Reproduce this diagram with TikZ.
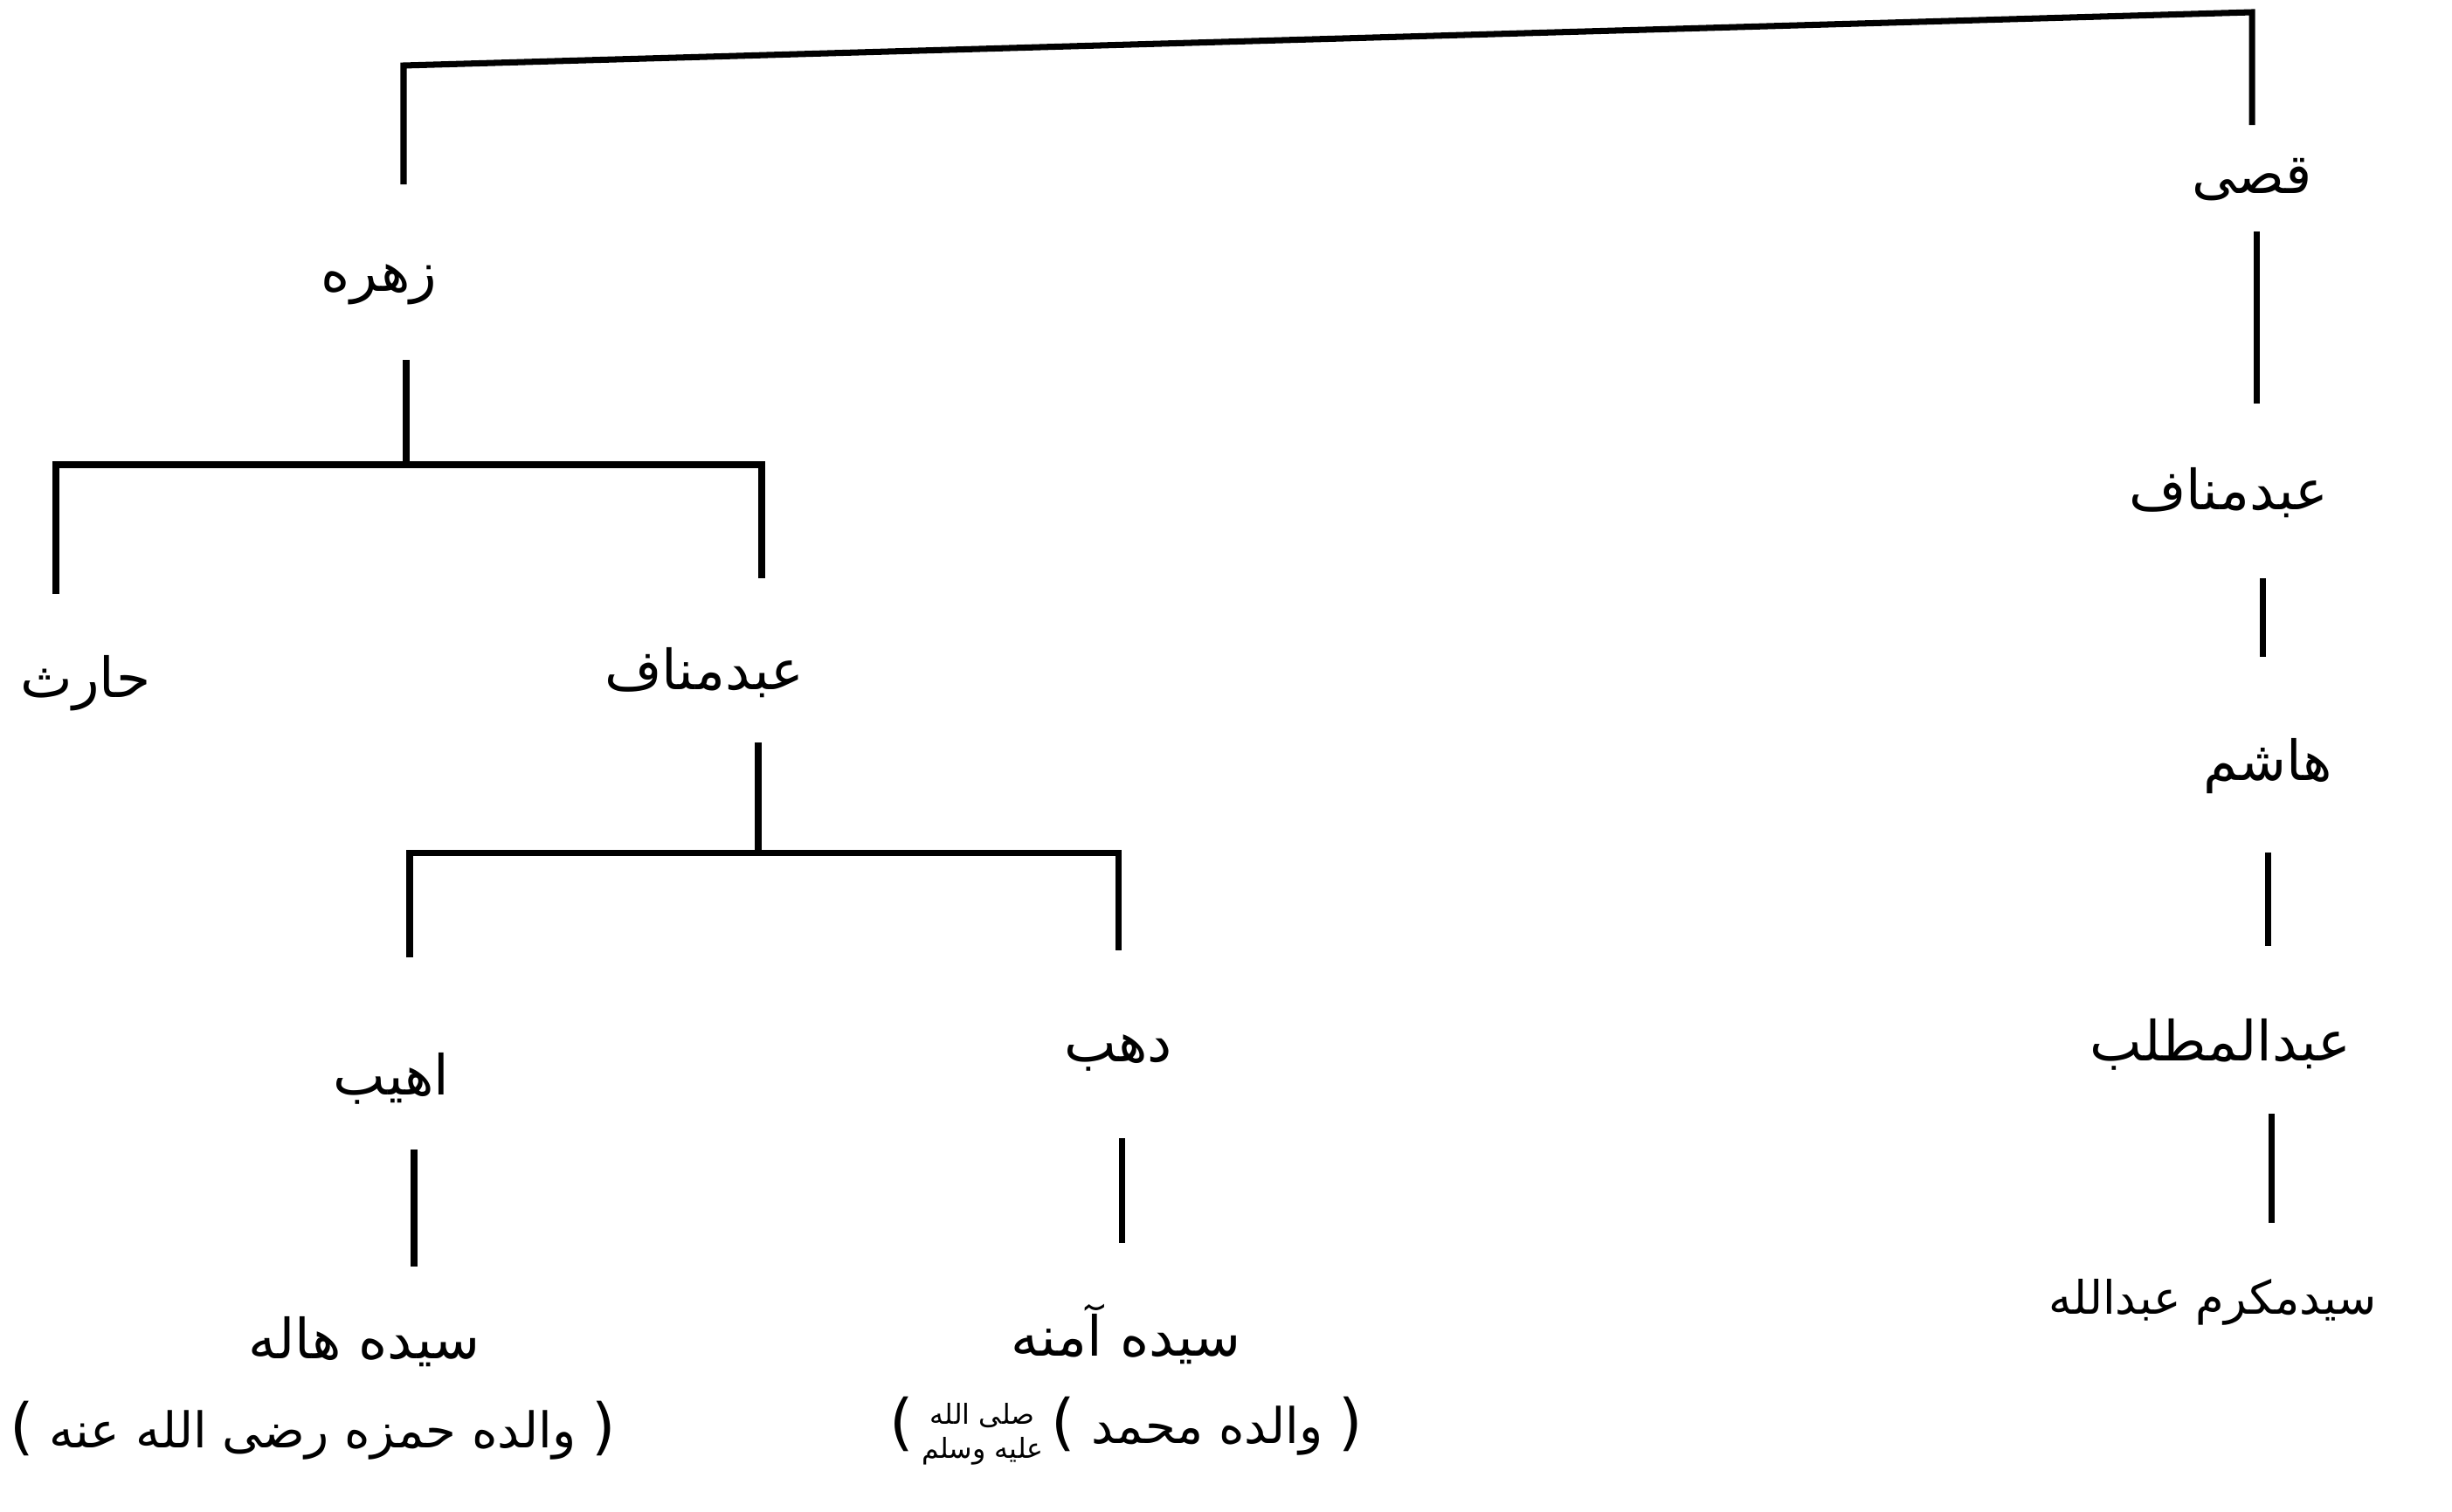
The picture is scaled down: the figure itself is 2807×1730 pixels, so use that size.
\documentclass[tikz,border=0pt]{standalone}
\usepackage{fontspec}
\newfontfamily\urdu[Script=Arabic]{DejaVu Sans}
\newfontfamily\lat{DejaVu Sans}
\TeXXeTstate=1
\tikzset{
  person/.style={font=\urdu\fontsize{18}{22}\selectfont, inner sep=0pt},
  note/.style={font=\urdu\fontsize{16}{20}\selectfont, inner sep=0pt},
  edge/.style={line width=2pt}
}
\newcommand{\ur}[1]{\beginR #1\endR}
\newcommand{\pbr}[1]{{\lat\fontsize{20}{22}\selectfont #1}}
\newcommand{\salla}{\raisebox{-5pt}{\urdu\fontsize{9}{10}\selectfont\shortstack[c]{\ur{صلی الله}\\\ur{علیه وسلم}}}}
\begin{document}
\begin{tikzpicture}[x=0.01cm,y=-0.01cm]
\useasboundingbox[fill=white] (0,0) rectangle (2807,1730);
% right column
\node[person] (qusai) at (2578,206) {\ur{قصی}};
\node[person] (abdmanafR) at (2551,564) {\ur{عبدمناف}};
\node[person] (hashim) at (2596,877) {\ur{هاشم}};
\node[person] (muttalib) at (2542,1196) {\ur{عبدالمطلب}};
\node[person, font=\urdu\fontsize{15}{18}\selectfont] (abdullah) at (2533,1491) {\ur{سیدمکرم عبدالله}};
% left part
\node[person] (zuhra) at (434,326) {\ur{زهره}};
\node[person] (harith) at (98,782) {\ur{حارث}};
\node[person] (abdmanafL) at (806,770) {\ur{عبدمناف}};
\node[person] (uhaib) at (448,1235) {\ur{اهیب}};
\node[person] (wahb) at (1280,1205) {\ur{دهب}};
\node[person] (hala) at (417,1536) {\ur{سیده هاله}};
\node[note] (halasub) at (358,1638) {\pbr{(}\ \ur{والده حمزه رضی الله عنه}\ \pbr{)}};
\node[person] (amina) at (1289,1527) {\ur{سیده آمنه}};
\node[note] (aminasub) at (1289,1638) {\pbr{(}\,\salla\,\pbr{(}\ \ur{والده محمد}\ \pbr{)}};
% connector end points
\coordinate (zuhra-up) at (462,211);
\coordinate (qusai-up) at (2578,143);
\coordinate (zuhra-dn) at (465,412);
\coordinate (zbar) at (465,532);
\coordinate (harith-up) at (64,680);
\coordinate (abdmanafL-up) at (872,662);
\coordinate (abdmanafL-dn) at (868,850);
\coordinate (abar) at (868,976);
\coordinate (uhaib-up) at (469,1096);
\coordinate (wahb-up) at (1280,1088);
\coordinate (uhaib-dn) at (474,1316);
\coordinate (hala-up) at (474,1450);
\coordinate (wahb-dn) at (1284,1303);
\coordinate (amina-up) at (1284,1423);
\coordinate (qusai-dn) at (2583,265);
\coordinate (abdmanafR-up) at (2583,462);
\coordinate (abdmanafR-dn) at (2590,662);
\coordinate (hashim-up) at (2590,752);
\coordinate (hashim-dn) at (2596,976);
\coordinate (muttalib-up) at (2596,1083);
\coordinate (muttalib-dn) at (2600,1275);
\coordinate (abdullah-up) at (2600,1400);
% connectors
\draw[edge] (zuhra-up) -- (462,75) -- (2578,14) -- (qusai-up);
\draw[edge] (zuhra-dn) -- (zbar);
\draw[edge] (harith-up) |- (zbar) -| (abdmanafL-up);
\draw[edge] (abdmanafL-dn) -- (abar);
\draw[edge] (uhaib-up) |- (abar) -| (wahb-up);
\draw[edge] (uhaib-dn) -- (hala-up);
\draw[edge] (wahb-dn) -- (amina-up);
\draw[edge] (qusai-dn) -- (abdmanafR-up);
\draw[edge] (abdmanafR-dn) -- (hashim-up);
\draw[edge] (hashim-dn) -- (muttalib-up);
\draw[edge] (muttalib-dn) -- (abdullah-up);
\end{tikzpicture}
\end{document}
